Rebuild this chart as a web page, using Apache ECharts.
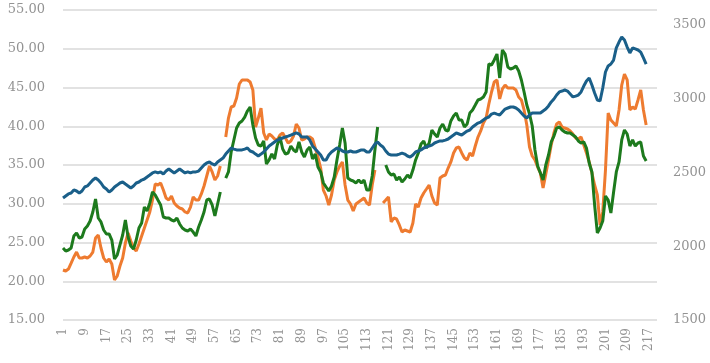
<!DOCTYPE html>
<html>
<head>
<meta charset="utf-8">
<script src="https://cdn.jsdelivr.net/npm/echarts/dist/echarts.min.js"></script>
<style>
html,body{margin:0;padding:0;background:#fff;}
#chart{width:710px;height:363px;}
</style>
</head>
<body>
<div id="chart"></div>
<script>
const categories = Array.from({length: 220}, (_, i) => String(i + 1));

const leftTicks = [15, 20, 25, 30, 35, 40, 45, 50, 55];
const rightTicks = [1500, 2000, 2500, 3000, 3500];

const blueSeries = [
2326,2340,2354,2360,2381,2374,2360,2374,2401,2408,
2428,2448,2462,2448,2428,2401,2387,2367,2381,2401,
2414,2428,2435,2421,2408,2394,2408,2428,2435,2448,
2455,2469,2482,2496,2503,2496,2503,2489,2509,2523,
2509,2496,2509,2523,2509,2496,2503,2496,2503,2503,
2509,2530,2550,2564,2570,2557,2550,2570,2584,2597,
2624,2645,2665,2658,2652,2652,2652,2658,2665,2645,
2638,2624,2611,2624,2638,2658,2679,2692,2706,2719,
2726,2733,2740,2746,2753,2760,2767,2760,2740,2740,
2740,2719,2679,2658,2638,2618,2584,2584,2618,2638,
2652,2665,2658,2645,2638,2638,2645,2638,2638,2645,
2652,2652,2638,2638,2665,2692,2706,2685,2672,2645,
2624,2618,2618,2618,2624,2631,2624,2611,2604,2618,
2638,2645,2652,2665,2672,2679,2685,2699,2706,2713,
2713,2719,2726,2740,2753,2767,2760,2753,2767,2780,
2787,2807,2821,2834,2841,2855,2868,2875,2895,2902,
2895,2889,2909,2929,2936,2943,2943,2936,2923,2902,
2882,2868,2889,2902,2902,2902,2902,2916,2929,2950,
2977,2997,3024,3045,3051,3058,3051,3031,3011,3017,
3024,3045,3085,3119,3139,3092,3038,2990,2984,3072,
3180,3221,3234,3261,3343,3383,3417,3397,3349,3309,
3343,3336,3329,3315,3275,3234
];

const orangeSeries = [
21.45,21.32,21.58,22.35,23.13,23.77,23.0,23.0,23.13,23.0,
23.26,23.77,25.58,25.97,24.29,23.0,22.48,22.87,22.23,20.16,
20.68,21.97,23.0,24.94,26.23,25.19,24.29,23.9,24.81,25.84,
26.87,27.9,28.94,30.48,32.55,32.42,32.68,31.77,30.74,30.48,
31.0,30.1,29.71,29.45,29.32,28.94,28.81,29.58,30.87,30.48,
30.48,31.26,32.29,33.58,34.87,34.1,33.06,33.58,34.87,null,
38.61,41.06,42.48,42.61,43.65,45.45,45.97,45.97,45.97,45.71,
44.68,39.9,41.06,42.35,39.13,38.23,39.0,38.74,38.35,38.23,
38.87,39.13,38.48,37.84,38.1,38.74,40.29,39.77,38.23,38.35,
38.61,38.61,38.35,37.19,36.03,34.61,31.77,31.0,29.84,31.13,
33.06,34.1,34.87,35.39,32.42,30.48,29.97,29.06,29.97,30.23,
30.48,30.74,30.1,29.84,32.42,34.35,null,null,30.1,30.48,
30.87,27.65,28.16,28.03,27.26,26.35,26.61,26.48,26.35,27.52,
29.97,29.58,30.74,31.39,31.9,32.42,31.0,30.1,29.84,33.32,
33.58,33.71,34.61,35.39,36.55,37.19,37.32,36.55,35.9,35.65,
36.55,36.16,37.45,38.61,39.39,40.42,41.06,42.87,44.42,45.71,
45.97,43.52,44.81,45.32,44.94,44.94,44.94,44.68,43.77,43.39,
42.1,40.16,37.32,36.16,35.65,34.74,33.97,32.03,33.84,35.65,
37.58,39.13,40.29,40.55,39.9,39.77,39.65,39.39,39.0,38.48,
38.35,38.61,37.58,36.55,35.39,33.97,32.42,31.13,27.26,28.94,
34.35,41.71,40.81,40.42,40.03,42.1,45.32,46.74,45.97,42.1,
42.48,42.23,43.39,44.68,42.1,40.16
];

const greenSeries = [
24.29,23.9,24.03,24.29,25.84,26.23,25.58,25.71,26.74,27.13,
27.77,28.94,30.61,28.16,27.65,26.61,26.1,26.1,25.32,22.87,
23.39,24.68,25.97,27.9,25.71,24.55,24.16,25.32,26.87,27.52,
29.58,29.06,30.1,31.52,31.13,30.48,29.84,28.29,28.16,28.16,
27.9,27.77,28.16,27.39,26.87,26.61,26.48,26.74,26.35,25.84,
27.0,27.9,28.94,30.48,30.61,29.84,28.42,29.97,31.52,null,
33.32,34.1,36.68,38.23,39.77,40.42,40.68,41.19,41.97,42.48,
40.16,38.48,37.58,37.45,38.1,35.13,35.65,36.42,35.77,37.58,
38.61,37.06,36.42,36.55,37.45,36.94,36.68,37.97,36.68,36.03,
36.94,37.32,35.77,36.42,34.74,34.1,32.68,32.16,31.65,32.29,
33.45,35.65,37.58,39.77,37.84,33.32,33.06,32.94,32.68,33.06,
32.68,33.06,31.77,31.77,33.58,36.94,39.9,null,null,35.0,
34.1,33.71,33.84,33.06,33.45,32.81,33.19,33.71,33.32,34.35,
35.65,36.55,37.71,38.1,37.19,37.84,39.52,39.0,38.61,39.77,
40.29,39.52,39.39,40.68,41.32,41.71,40.81,40.81,39.9,40.29,
41.71,42.1,42.74,43.39,43.52,43.77,44.42,48.03,47.9,48.55,
49.32,46.23,49.84,49.32,47.65,47.39,47.52,47.77,47.13,45.97,
44.42,42.74,41.58,40.03,36.94,34.87,33.97,33.06,35.0,36.29,
37.97,38.74,39.77,39.9,39.52,39.26,39.13,39.13,38.87,38.61,
38.1,37.84,37.97,37.19,35.26,34.1,29.84,26.23,26.87,27.77,
31.0,30.48,28.81,31.52,34.1,35.39,38.23,39.52,39.0,37.45,
38.23,37.45,37.84,37.97,36.16,35.52
];

const labelColor = '#939393';
const labelFont = 'DejaVu Serif';

const chart = echarts.init(document.getElementById('chart'), null, {renderer: 'canvas'});
chart.setOption({
  animation: false,
  backgroundColor: '#ffffff',
  grid: {left: 63, right: 53, top: 10, bottom: 43, containLabel: false},
  xAxis: {
    type: 'category',
    data: categories,
    boundaryGap: false,
    axisLine: {show: false},
    axisTick: {show: false},
    splitLine: {show: false},
    axisLabel: {
      interval: 7,
      rotate: 90,
      color: labelColor,
      fontFamily: labelFont,
      fontSize: 12,
      margin: 8
    }
  },
  yAxis: [
    {
      type: 'value',
      min: leftTicks[0],
      max: leftTicks[leftTicks.length - 1],
      interval: 5,
      axisLine: {show: false},
      axisTick: {show: false},
      axisLabel: {formatter: v => v.toFixed(2), color: labelColor, fontFamily: labelFont, fontSize: 13, margin: 18},
      splitLine: {show: true, lineStyle: {color: '#d9d9d9', width: 1.5}}
    },
    {
      type: 'value',
      position: 'right',
      min: rightTicks[0],
      max: 3600,
      interval: 500,
      axisLine: {show: false},
      axisTick: {show: false},
      splitLine: {show: false},
      axisLabel: {showMaxLabel: false, formatter: v => String(v), color: labelColor, fontFamily: labelFont, fontSize: 13, margin: 16}
    }
  ],
  series: [
    {name: 'orange', type: 'line', yAxisIndex: 0, data: orangeSeries, showSymbol: false, symbol: 'none',
     lineStyle: {color: '#ee7b30', width: 3}, itemStyle: {color: '#ee7b30'}, connectNulls: false},
    {name: 'green', type: 'line', yAxisIndex: 0, data: greenSeries, showSymbol: false, symbol: 'none',
     lineStyle: {color: '#1d7a1d', width: 3}, itemStyle: {color: '#1d7a1d'}, connectNulls: false},
    {name: 'blue', type: 'line', yAxisIndex: 1, data: blueSeries, showSymbol: false, symbol: 'none',
     lineStyle: {color: '#1a5f89', width: 3}, itemStyle: {color: '#1a5f89'}}
  ]
});
</script>
</body>
</html>
